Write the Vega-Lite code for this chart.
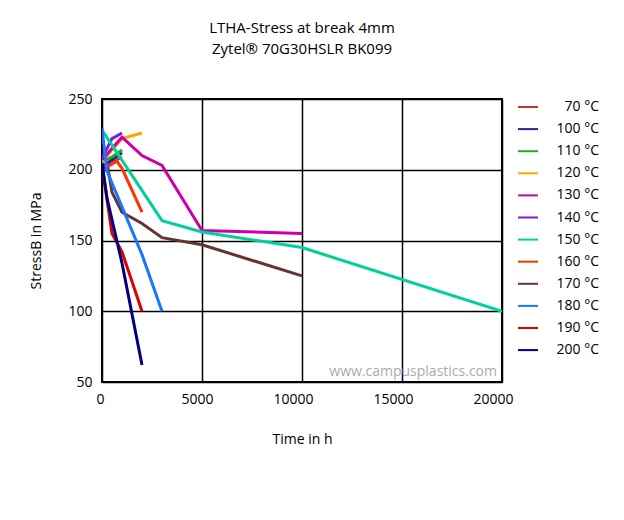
{
  "$schema": "https://vega.github.io/schema/vega-lite/v6.json",
  "width": 400,
  "height": 283,
  "autosize": "none",
  "padding": {"left": 102, "top": 99, "right": 122, "bottom": 138},
  "background": "white",
  "title": {
    "text": ["LTHA-Stress at break 4mm", "Zytel® 70G30HSLR BK099"],
    "font": "Open Sans",
    "fontSize": 15,
    "fontWeight": "normal",
    "lineHeight": 21,
    "color": "#000000",
    "anchor": "middle",
    "offset": 35
  },
  "config": {
    "view": {"stroke": "#000000", "strokeWidth": 2},
    "font": "Open Sans"
  },
  "datasets": {
    "curves": [
      {"s": "70 °C", "t": 0, "v": 199}, {"s": "70 °C", "t": 500, "v": 205}, {"s": "70 °C", "t": 1000, "v": 209},
      {"s": "100 °C", "t": 0, "v": 202}, {"s": "100 °C", "t": 500, "v": 207}, {"s": "100 °C", "t": 1000, "v": 212},
      {"s": "110 °C", "t": 0, "v": 206}, {"s": "110 °C", "t": 500, "v": 209}, {"s": "110 °C", "t": 1000, "v": 214},
      {"s": "120 °C", "t": 0, "v": 205}, {"s": "120 °C", "t": 500, "v": 214}, {"s": "120 °C", "t": 1000, "v": 222}, {"s": "120 °C", "t": 2000, "v": 226},
      {"s": "130 °C", "t": 0, "v": 207}, {"s": "130 °C", "t": 500, "v": 215}, {"s": "130 °C", "t": 1000, "v": 223}, {"s": "130 °C", "t": 2000, "v": 210}, {"s": "130 °C", "t": 3000, "v": 203}, {"s": "130 °C", "t": 5000, "v": 157}, {"s": "130 °C", "t": 10000, "v": 155},
      {"s": "140 °C", "t": 0, "v": 208}, {"s": "140 °C", "t": 500, "v": 222}, {"s": "140 °C", "t": 1000, "v": 226},
      {"s": "150 °C", "t": 0, "v": 228}, {"s": "150 °C", "t": 3000, "v": 164}, {"s": "150 °C", "t": 5000, "v": 156}, {"s": "150 °C", "t": 10000, "v": 145}, {"s": "150 °C", "t": 20000, "v": 100},
      {"s": "160 °C", "t": 0, "v": 200}, {"s": "160 °C", "t": 750, "v": 206}, {"s": "160 °C", "t": 1000, "v": 201}, {"s": "160 °C", "t": 2000, "v": 170},
      {"s": "170 °C", "t": 0, "v": 203}, {"s": "170 °C", "t": 300, "v": 201}, {"s": "170 °C", "t": 500, "v": 184}, {"s": "170 °C", "t": 1000, "v": 170}, {"s": "170 °C", "t": 2000, "v": 162}, {"s": "170 °C", "t": 3000, "v": 152}, {"s": "170 °C", "t": 5000, "v": 147}, {"s": "170 °C", "t": 10000, "v": 125},
      {"s": "180 °C", "t": 0, "v": 229}, {"s": "180 °C", "t": 250, "v": 199}, {"s": "180 °C", "t": 2000, "v": 140}, {"s": "180 °C", "t": 3000, "v": 100},
      {"s": "190 °C", "t": 0, "v": 203}, {"s": "190 °C", "t": 500, "v": 155}, {"s": "190 °C", "t": 1000, "v": 142}, {"s": "190 °C", "t": 2000, "v": 100},
      {"s": "200 °C", "t": 0, "v": 205}, {"s": "200 °C", "t": 250, "v": 180}, {"s": "200 °C", "t": 1000, "v": 134}, {"s": "200 °C", "t": 2000, "v": 62}
    ],
    "mark": [{"t": 20000, "v": 56.8, "label": "www.campusplastics.com"}]
  },
  "layer": [
    {
      "data": {"name": "curves"},
      "mark": {"type": "line", "strokeWidth": 3, "clip": true},
      "encoding": {
        "x": {
          "field": "t", "type": "quantitative",
          "scale": {"domain": [0, 20000], "nice": false, "zero": false},
          "axis": {
            "title": "Time in h", "titleFont": "Open Sans", "titleFontSize": 14, "titleFontWeight": "normal", "titleColor": "#000", "titlePadding": 26,
            "values": [0, 5000, 10000, 15000, 20000], "format": "d",
            "labelFont": "Open Sans", "labelFontSize": 14, "labelColor": "#000", "labelPadding": 10,
            "labelFlush": false,
            "labelOffset": {"condition": [{"test": "datum.value == 0", "value": -2}, {"test": "datum.value == 5000", "value": -5}], "value": -9},
            "ticks": false, "domain": false, "grid": true, "gridColor": "#000", "gridWidth": 1.5
          }
        },
        "y": {
          "field": "v", "type": "quantitative",
          "scale": {"domain": [50, 250], "nice": false, "zero": false},
          "axis": {
            "title": "StressB in MPa", "titleFont": "Open Sans", "titleFontSize": 14, "titleFontWeight": "normal", "titleColor": "#000", "titlePadding": 24,
            "values": [50, 100, 150, 200, 250],
            "labelFont": "Open Sans", "labelFontSize": 14, "labelColor": "#000", "labelPadding": 10,
            "ticks": false, "domain": false, "grid": true, "gridColor": "#000", "gridWidth": 1.5
          }
        },
        "color": {
          "field": "s", "type": "nominal",
          "scale": {
            "domain": ["70 °C", "100 °C", "110 °C", "120 °C", "130 °C", "140 °C", "150 °C", "160 °C", "170 °C", "180 °C", "190 °C", "200 °C"],
            "range": ["#d03030", "#22229a", "#22aa22", "#ffa500", "#cc00aa", "#7a1fd6", "#00d09a", "#ff3300", "#663333", "#1a75ff", "#dd0000", "#000080"]
          },
          "legend": {
            "title": null,
            "orient": "none",
            "legendX": 415,
            "legendY": -3,
            "symbolType": "stroke",
            "symbolSize": 400,
            "symbolStrokeWidth": 2,
            "labelFont": "Open Sans",
            "labelFontSize": 14,
            "labelColor": "#000",
            "labelAlign": "right",
            "labelOffset": 60,
            "rowPadding": 4.1,
            "padding": 0
          }
        }
      }
    },
    {
      "data": {"name": "mark"},
      "mark": {"type": "text", "align": "right", "baseline": "middle", "fontSize": 14, "color": "#aaaaaa", "font": "Open Sans", "dx": -5},
      "encoding": {
        "x": {"field": "t", "type": "quantitative"},
        "y": {"field": "v", "type": "quantitative"},
        "text": {"field": "label"}
      }
    }
  ]
}
